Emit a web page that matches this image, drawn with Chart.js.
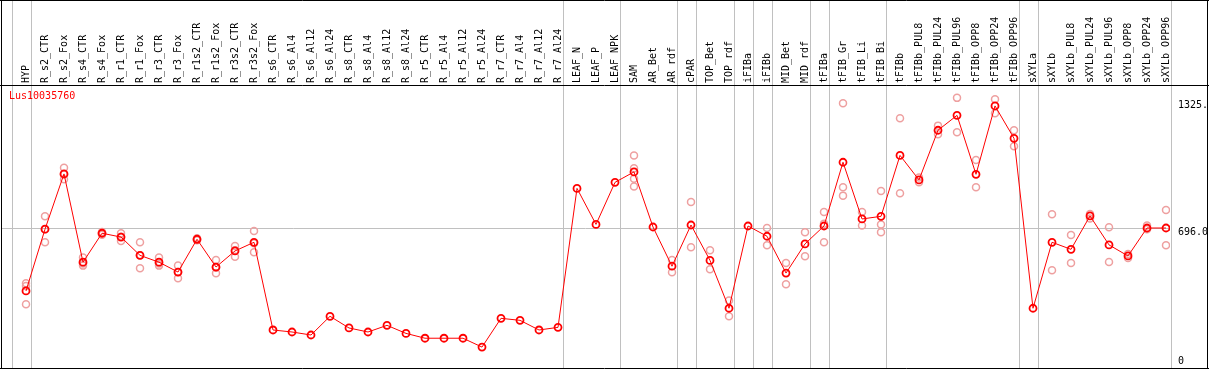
<!DOCTYPE html>
<html>
<head>
<meta charset="utf-8">
<script src="https://cdn.jsdelivr.net/npm/chart.js@4"></script>
<style>
  html, body { margin: 0; padding: 0; background: #fff; }
  #wrap { width: 1209px; height: 370px; }
</style>
</head>
<body>
<div id="wrap"><canvas id="exprChart" width="1209" height="370"></canvas></div>
<script>
// Expression profile of Lus10035760 across tissues / treatments

const geneName = 'Lus10035760';

const categories = [
  'HYP', 'R_s2_CTR', 'R_s2_Fox', 'R_s4_CTR', 'R_s4_Fox', 'R_r1_CTR', 'R_r1_Fox',
  'R_r3_CTR', 'R_r3_Fox', 'R_r1s2_CTR', 'R_r1s2_Fox', 'R_r3s2_CTR', 'R_r3s2_Fox',
  'R_s6_CTR', 'R_s6_Al4', 'R_s6_Al12', 'R_s6_Al24', 'R_s8_CTR', 'R_s8_Al4',
  'R_s8_Al12', 'R_s8_Al24', 'R_r5_CTR', 'R_r5_Al4', 'R_r5_Al12', 'R_r5_Al24',
  'R_r7_CTR', 'R_r7_Al4', 'R_r7_Al12', 'R_r7_Al24', 'LEAF_N', 'LEAF_P', 'LEAF_NPK',
  'SAM', 'AR_Bet', 'AR_rdf', 'cPAR', 'TOP_Bet', 'TOP_rdf', 'iFIBa', 'iFIBb',
  'MID_Bet', 'MID_rdf', 'tFIBa', 'tFIB_Gr', 'tFIB_Li', 'tFIB_Bi', 'tFIBb',
  'tFIBb_PUL8', 'tFIBb_PUL24', 'tFIBb_PUL96', 'tFIBb_OPP8', 'tFIBb_OPP24', 'tFIBb_OPP96',
  'sXYLa', 'sXYLb', 'sXYLb_PUL8', 'sXYLb_PUL24', 'sXYLb_PUL96', 'sXYLb_OPP8',
  'sXYLb_OPP24', 'sXYLb_OPP96'
];

// mean expression per sample
const meanValues = [
  383, 690, 965, 526, 670, 651, 560, 526, 477, 640, 502, 582, 625,
  189, 179, 164, 257, 199, 179, 212, 172, 148, 148, 148, 104,
  247, 237, 189, 202, 893, 714, 923,
  975, 701, 506, 711, 535, 297, 706, 655,
  472, 617, 706, 1023, 741, 754, 1057,
  935, 1182, 1256, 963, 1303, 1142,
  297, 625, 590, 756, 612, 557, 696, 696
];

// individual replicates (null = none shown)
const rep1 = [
  421, 754, 995, 549, 676, 670, 625, 549, 509, 645, 537, 607, 681,
  null, null, null, null, null, null, null, null, null, null, null, null,
  null, null, null, null, null, null, null,
  1057, null, 537, 825, 585, 335, null, 696,
  522, 675, 776, 1316, 776, 880, 1242,
  947, 1205, 1343, 1034, 1336, 1182,
  null, 764, 661, 766, 700, 567, 709, 786
];
const rep2 = [
  317, 625, 938, 509, 663, 631, 496, 509, 446, 635, 471, 553, 575,
  null, null, null, null, null, null, null, null, null, null, null, null,
  null, null, null, null, null, null, null,
  902, null, 476, 600, 491, 257, null, 610,
  416, 555, 625, 857, 708, 675, 869,
  923, 1162, 1172, 899, 1266, 1102,
  null, 486, 522, 743, 527, 547, 690, 610
];
const rep3 = [
  408, 690, 962, 520, 671, 652, 560, 520, 477, 640, 500, 586, 620,
  null, null, null, null, null, null, null, null, null, null, null, null,
  null, null, null, null, null, null, null,
  993, null, null, null, null, null, null, null,
  null, null, 717, 899, null, 714, null,
  null, null, null, null, null, null,
  null, null, null, null, null, null, null, null
];
const rep4 = [
  null, null, null, null, null, null, null, null, null, null, null, null, null,
  null, null, null, null, null, null, null, null, null, null, null, null,
  null, null, null, null, null, null, null,
  941, null, null, null, null, null, null, null,
  null, null, null, null, null, null, null,
  null, null, null, null, null, null,
  null, null, null, null, null, null, null, null
];

const yTicks = [0, 696, 1325];
const yTickLabels = ['0', '696.0', '1325.'];

// separators are drawn just after these sample indexes
const groupBreaks = [-1, 0, 28, 31, 34, 35, 37, 38, 39, 41, 42, 45, 52, 53, 60];

const MONO = "'DejaVu Sans Mono', 'Liberation Mono', monospace";

function toPoints(arr) {
  return arr.map((v, i) => ({ x: i, y: v }));
}

function repDataset(arr) {
  return {
    data: toPoints(arr),
    showLine: false,
    pointStyle: 'circle',
    pointRadius: 3.5,
    pointBorderWidth: 1.5,
    pointBorderColor: '#eea0a0',
    pointBackgroundColor: 'rgba(0,0,0,0)',
    order: 2
  };
}

// grey separators, y labels, black frame, gene name
const framePlugin = {
  id: 'framePlugin',
  beforeDatasetsDraw(chart) {
    const ctx = chart.ctx;
    const xs = chart.scales.x;
    const area = chart.chartArea;
    ctx.save();
    ctx.strokeStyle = '#c0c0c0';
    ctx.lineWidth = 1;
    groupBreaks.forEach(b => {
      const px = Math.round(xs.getPixelForValue(b + 0.24)) + 0.5;
      ctx.beginPath();
      ctx.moveTo(px, 0);
      ctx.lineTo(px, area.bottom);
      ctx.stroke();
    });
    ctx.restore();
  },
  afterDraw(chart) {
    const ctx = chart.ctx;
    const ys = chart.scales.y;
    const area = chart.chartArea;
    ctx.save();
    // y labels (clamped inside the plot like the original)
    ctx.font = '10px ' + MONO;
    ctx.fillStyle = '#000';
    ctx.textAlign = 'left';
    ctx.textBaseline = 'top';
    yTicks.forEach((v, i) => {
      let py = ys.getPixelForValue(v) - 1;
      py = Math.min(py, area.bottom - 12);
      ctx.fillText(yTickLabels[i], area.right + 8, py);
    });
    // frame
    ctx.strokeStyle = '#000';
    ctx.lineWidth = 1;
    ctx.beginPath();
    ctx.moveTo(0, 0.5); ctx.lineTo(chart.width, 0.5);
    ctx.moveTo(0, area.top + 0.5); ctx.lineTo(chart.width, area.top + 0.5);
    ctx.moveTo(0, area.bottom + 0.5); ctx.lineTo(chart.width, area.bottom + 0.5);
    ctx.moveTo(1.5, 0); ctx.lineTo(1.5, area.bottom + 1);
    ctx.moveTo(chart.width - 1.5, 0); ctx.lineTo(chart.width - 1.5, area.bottom + 1);
    ctx.stroke();
    // gene name
    ctx.fillStyle = '#ff0000';
    ctx.fillText(geneName, 9, area.top + 6);
    ctx.restore();
  }
};

new Chart(document.getElementById('exprChart'), {
  type: 'line',
  data: {
    datasets: [
      {
        data: toPoints(meanValues),
        borderColor: '#ff0000',
        borderWidth: 1,
        tension: 0,
        pointStyle: 'circle',
        pointRadius: 3.5,
        pointBorderWidth: 1.8,
        pointBorderColor: '#ff0000',
        pointBackgroundColor: 'rgba(0,0,0,0)',
        order: 1
      },
      repDataset(rep1),
      repDataset(rep2),
      repDataset(rep3),
      repDataset(rep4)
    ]
  },
  options: {
    responsive: false,
    animation: false,
    devicePixelRatio: 1,
    layout: { autoPadding: false, padding: { left: 1, right: 0, top: 0, bottom: 2 } },
    plugins: {
      legend: { display: false },
      tooltip: { enabled: false }
    },
    scales: {
      x: {
        type: 'linear',
        position: 'top',
        min: -1.316,
        max: 60.21,
        afterBuildTicks: scale => {
          scale.ticks = categories.map((c, i) => ({ value: i }));
        },
        afterFit: scale => {
          scale.height = 85;
          scale.paddingLeft = 0;
          scale.paddingRight = 0;
        },
        grid: { display: false, drawTicks: false },
        border: { display: false },
        ticks: {
          autoSkip: false,
          minRotation: 90,
          maxRotation: 90,
          padding: 2,
          labelOffset: 12,
          color: '#000',
          font: { family: MONO, size: 10 },
          callback: v => categories[v] ?? ''
        }
      },
      y: {
        type: 'linear',
        position: 'right',
        min: 0,
        max: 1407,
        afterBuildTicks: scale => {
          scale.ticks = yTicks.map(v => ({ value: v }));
        },
        afterFit: scale => {
          scale.width = 39;
          scale.paddingTop = 0;
          scale.paddingBottom = 0;
        },
        grid: {
          drawTicks: false,
          color: c => (c.tick && c.tick.value === 696) ? '#c0c0c0' : 'rgba(0,0,0,0)'
        },
        border: { display: false },
        ticks: { display: false }
      }
    }
  },
  plugins: [framePlugin]
});
</script>
</body>
</html>
